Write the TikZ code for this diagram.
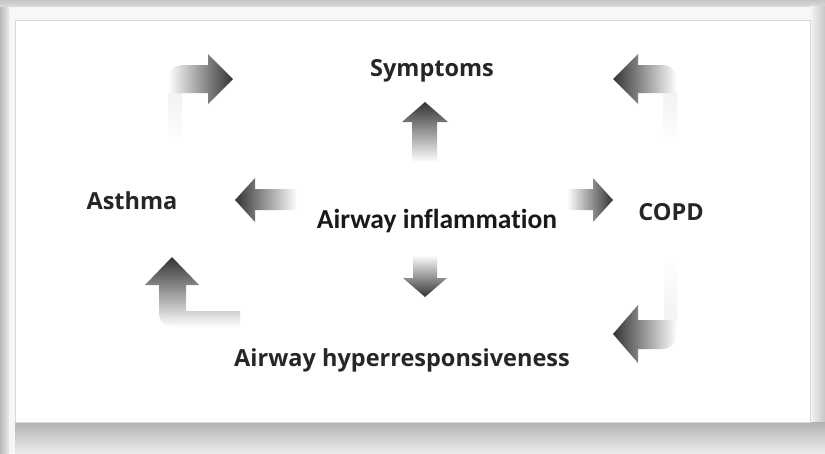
\documentclass[tikz,border=0pt]{standalone}
\usepackage{fontspec}
\setmainfont{Carlito}[Ligatures=NoCommon]
\newfontfamily\labelfont{Open Sans}
\begin{document}
\begin{tikzpicture}[x=1pt,y=-1pt,
  lbl/.style={font=\labelfont\bfseries\fontsize{23.5}{28}\selectfont, inner sep=0pt, anchor=base, text=black!85},
  mainlbl/.style={font=\bfseries\fontsize{27.5}{32}\selectfont, inner sep=0pt, anchor=base, text=black!90},
  arrowbody/.style={draw=none}]
\useasboundingbox (0,0) rectangle (825,453);
% page frame and drop shadow
\fill[gray!40] (0,0) rectangle (825,453);
\fill[gray!6] (9,6) rectangle (825,453);
\shade[left color=gray!55, right color=gray!18] (0,0) rectangle (9,453);
\shade[top color=gray!45, bottom color=gray!30] (0,0) rectangle (825,6);
\shade[left color=gray!8, right color=gray!45] (810,6) rectangle (825,453);
\shade[top color=gray!60, bottom color=gray!15] (15,422) rectangle (825,453);
\fill[white, draw=gray!30, line width=0.8pt] (15,20) rectangle (810,422);

% labels
\node[lbl] (symptoms) at (432,76) {Symptoms};
\node[lbl] (asthma) at (132,209) {Asthma};
\node[lbl] (copd) at (671,220) {COPD};
\node[mainlbl] (inflam) at (437,228) {Airway inflammation};
\node[lbl] (ahr) at (402,366) {Airway hyperresponsiveness};

% central arrows
\shade[arrowbody, top color=black!80, bottom color=white]
  (425,102) -- (448,122) -- (437,122) -- (437,162) -- (412,162) -- (412,122) -- (402,122) -- cycle;
\shade[arrowbody, top color=white, middle color=gray!30, bottom color=black!80]
  (425,297) -- (447,278) -- (437,278) -- (437,255) -- (413,255) -- (413,278) -- (403,278) -- cycle;
\shade[arrowbody, left color=black!80, middle color=gray!45, right color=white]
  (235,200) -- (255,178) -- (255,189) -- (297,189) -- (297,210) -- (255,210) -- (255,222) -- cycle;
\shade[arrowbody, left color=white, middle color=gray!8, right color=black!80]
  (613,200) -- (593,178) -- (593,189) -- (567,189) -- (567,210) -- (593,210) -- (593,222) -- cycle;

% bent arrows in the corners: faint stems, then shaft and head
\shade[arrowbody, top color=gray!10, bottom color=white] (168,93) rectangle (182,145);
\shade[arrowbody, left color=white, middle color=gray!35, right color=black!80]
  (168,93) -- (168,80) .. controls (168,71) and (174,65) .. (184,65) -- (208,65)
  -- (208,54) -- (233,79) -- (208,104) -- (208,93) -- cycle;
\shade[arrowbody, top color=gray!10, bottom color=white] (663,93) rectangle (677,145);
\shade[arrowbody, left color=black!80, middle color=gray!35, right color=white]
  (677,93) -- (677,80) .. controls (677,71) and (671,65) .. (661,65) -- (638,65)
  -- (638,54) -- (613,79) -- (638,104) -- (638,93) -- cycle;
\shade[arrowbody, top color=black!80, middle color=gray!35, bottom color=white]
  (172,257) -- (199,285) -- (186,285) -- (186,311) -- (240,311) -- (240,327) -- (176,327)
  .. controls (166,327) and (159,322) .. (159,312) -- (159,285) -- (145,285) -- cycle;
\shade[arrowbody, top color=white, bottom color=gray!10] (664,257) rectangle (677,320);
\shade[arrowbody, left color=black!80, middle color=gray!35, right color=white]
  (613,334) -- (638,305) -- (638,320) -- (677,320) -- (677,332)
  .. controls (677,343) and (671,349) .. (661,349) -- (638,349) -- (638,363) -- cycle;
\end{tikzpicture}
\end{document}
